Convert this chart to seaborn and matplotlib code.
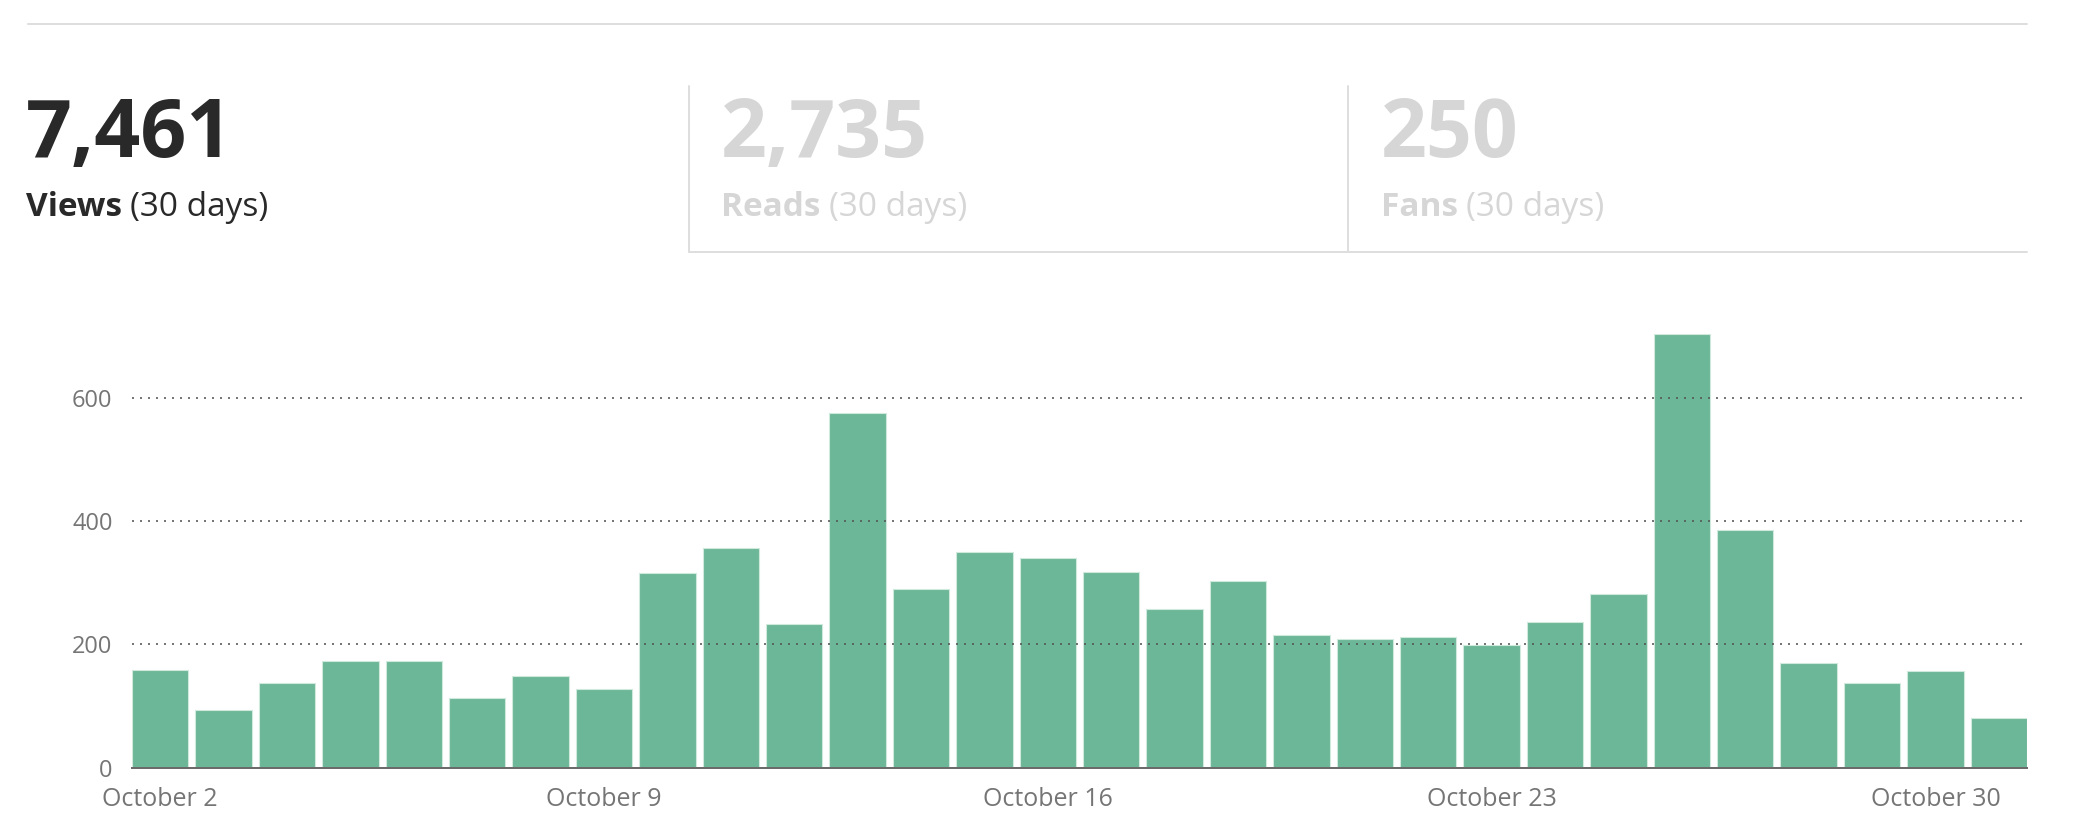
import matplotlib
matplotlib.use('Agg')
import matplotlib.pyplot as plt
from matplotlib.lines import Line2D
import seaborn as sns
import pandas as pd

W, H = 2074, 824

# daily views, October 2 .. October 31
days = ['October %d' % d for d in range(2, 32)]
views = [158, 94, 138, 173, 173, 113, 149, 127, 316, 357,
         233, 575, 290, 349, 340, 317, 257, 303, 215, 209,
         212, 199, 237, 282, 704, 385, 169, 138, 157, 80]
tick_days = ['October 2', 'October 9', 'October 16', 'October 23', 'October 30']
y_ticks = [0, 200, 400, 600]

stat_values = ['7,461', '2,735', '250']
stat_names = ['Views', 'Reads', 'Fans']
stat_period = '(30 days)'

sns.set_theme(style='white')
plt.rcParams['font.family'] = ['Open Sans', 'DejaVu Sans']

fig = plt.figure(figsize=(W / 100, H / 100), dpi=100)


def fx(x):
    return x / W


def fy(y):
    return 1 - y / H


# bar chart
ax = fig.add_axes([fx(132), fy(767.6), fx(2027) - fx(132), 450 / H])
df = pd.DataFrame({'day': days, 'views': views})
sns.barplot(data=df, x='day', y='views', color='#6db799', saturation=1,
            width=0.89, edgecolor='#cfe9dd', linewidth=0.8, ax=ax)
ax.set_xlim(-0.445, len(days) - 1 + 0.445)
ax.set_ylim(0, 730)
ax.set_xticks([days.index(t) for t in tick_days])
ax.set_xticklabels(tick_days)
ax.set_yticks(y_ticks)
for v in y_ticks[1:]:
    ax.axhline(v, color='#555555', lw=1.44, ls=(0, (1, 3)), alpha=0.8, zorder=3)
ax.set_xlabel('')
ax.set_ylabel('')
sns.despine(ax=ax, left=True)
ax.spines['bottom'].set_color('#6b6b6b')
ax.spines['bottom'].set_linewidth(1.44)
ax.spines['bottom'].set_zorder(4)
ax.tick_params(axis='both', length=0, labelcolor='#757575')
ax.tick_params(axis='y', pad=14, labelsize=17)
ax.tick_params(axis='x', pad=14, labelsize=18)

# header with totals
line_c = '#dedede'
fig.add_artist(Line2D([fx(28), fx(2027)], [fy(24), fy(24)], color=line_c, lw=1.44))
fig.add_artist(Line2D([fx(689), fx(2027)], [fy(252), fy(252)], color=line_c, lw=1.44))
for xv in [689, 1348]:
    fig.add_artist(Line2D([fx(xv), fx(xv)], [fy(86), fy(252)], color=line_c, lw=1.44))

for i, xs in enumerate([26, 721, 1381]):
    c = '#292929' if i == 0 else '#d6d6d6'
    fig.text(fx(xs), fy(157), stat_values[i], fontsize=58, fontweight='bold',
             color=c, va='baseline', ha='left')
    t = fig.text(fx(xs), fy(216), stat_names[i], fontsize=24, fontweight='bold',
                 color=c, va='baseline', ha='left')
    ax.annotate(stat_period, xy=(1, 0), xycoords=t, xytext=(6, 0),
                textcoords='offset points', fontsize=24, color=c,
                va='bottom', ha='left', annotation_clip=False)

fig.savefig('out.png', dpi=100)
